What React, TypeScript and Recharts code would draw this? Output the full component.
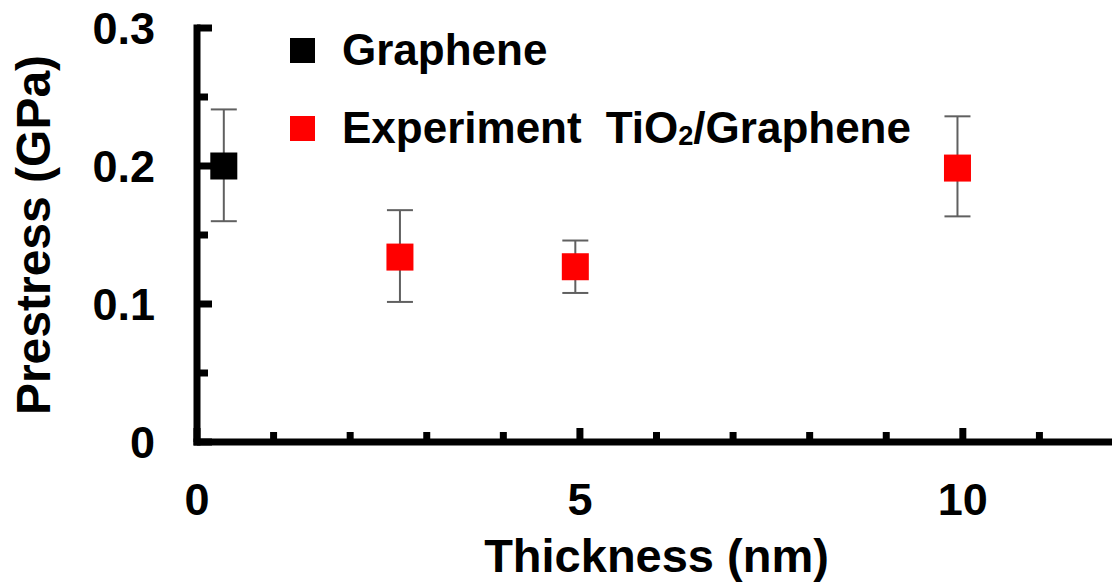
import { ScatterChart, Scatter, XAxis, YAxis, ErrorBar, Label } from 'recharts'

const FONT = "'Liberation Sans', Arial, sans-serif"

// Graphene
const grapheneX = [0.35]
const grapheneY = [0.2]
const grapheneErr = [[0.04, 0.041]]

// Experiment TiO2/Graphene
const tio2X = [2.65, 4.94, 9.93]
const tio2Y = [0.134, 0.127, 0.1985]
const tio2Err = [[0.0325, 0.034], [0.019, 0.019], [0.035, 0.0375]]

const xTicks = [0, 1, 2, 3, 4, 5, 6, 7, 8, 9, 10, 11, 12]
const xMajor = [0, 5, 10]
const yTicks = [0, 0.05, 0.1, 0.15, 0.2, 0.25, 0.3]
const yMajor = [0, 0.1, 0.2, 0.3]

const grapheneData = grapheneX.map((x, i) => ({ x, y: grapheneY[i], err: grapheneErr[i] }))
const tio2Data = tio2X.map((x, i) => ({ x, y: tio2Y[i], err: tio2Err[i] }))

const squareShape = (color: string) => (props: any) => (
    <rect x={props.cx - 13.5} y={props.cy - 13.5} width={27} height={27} fill={color} />
)

const YTick = (props: any) => {
    const { x, y, payload } = props
    const major = yMajor.some((m) => Math.abs(m - payload.value) < 1e-9)
    return (
        <g>
            <line x1={x} x2={x + (major ? 15 : 11)} y1={y} y2={y} stroke="#000" strokeWidth={7} />
            {major && (
                <text x={x - 42} y={y + 16} textAnchor="end" fontSize={45} fontWeight="bold" fontFamily={FONT} fill="#000">
                    {payload.value === 0 ? '0' : payload.value.toFixed(1)}
                </text>
            )}
        </g>
    )
}

const XTick = (props: any) => {
    const { x, y, payload } = props
    const major = xMajor.includes(payload.value)
    return (
        <g>
            <line x1={x} x2={x} y1={y} y2={y - (major ? 14 : 10)} stroke="#000" strokeWidth={7} />
            {major && (
                <text x={x} y={y + 73} textAnchor="middle" fontSize={45} fontWeight="bold" fontFamily={FONT} fill="#000">
                    {payload.value}
                </text>
            )}
        </g>
    )
}

const LegendBox = () => {
    const row = { display: 'flex', alignItems: 'center', height: 78 } as const
    const text = { fontSize: 44, fontWeight: 'bold', fontFamily: FONT, lineHeight: 1, color: '#000', marginLeft: 27, whiteSpace: 'nowrap' } as const
    return (
        <div style={{ position: 'absolute', left: 290, top: 11 }}>
            <div style={row}>
                <div style={{ width: 25, height: 25, background: '#000' }} />
                <span style={text}>Graphene</span>
            </div>
            <div style={row}>
                <div style={{ width: 25, height: 25, background: '#ff0000' }} />
                <span style={text}>
                    Experiment<span style={{ marginLeft: 24 }}>TiO</span>
                    <span style={{ fontSize: '0.62em', verticalAlign: '-0.06em' }}>2</span>/Graphene
                </span>
            </div>
        </div>
    )
}

export default function App() {
    return (
        <div style={{ position: 'absolute', left: 0, top: 0, width: 1112, height: 588, overflow: 'hidden', background: '#fff' }}>
            <ScatterChart width={1116} height={588} margin={{ top: 28, right: 0, bottom: 0, left: 0 }}>
                <XAxis
                    type="number"
                    dataKey="x"
                    domain={[0, 12]}
                    ticks={xTicks}
                    interval={0}
                    height={146}
                    tickSize={0}
                    tickMargin={0}
                    tickLine={false}
                    tick={XTick}
                    axisLine={{ stroke: '#000', strokeWidth: 7, strokeLinecap: 'square' }}
                >
                    <Label
                        content={(p: any) => (
                            <text x={p.viewBox.x + p.viewBox.width / 2} y={p.viewBox.y + 130} textAnchor="middle" fontSize={47} fontWeight="bold" fontFamily={FONT} fill="#000">
                                Thickness (nm)
                            </text>
                        )}
                    />
                </XAxis>
                <YAxis
                    type="number"
                    dataKey="y"
                    domain={[0, 0.3]}
                    ticks={yTicks}
                    interval={0}
                    width={197}
                    tickSize={0}
                    tickMargin={0}
                    tickLine={false}
                    tick={YTick}
                    axisLine={{ stroke: '#000', strokeWidth: 7, strokeLinecap: 'square' }}
                >
                    <Label
                        content={(p: any) => {
                            const cy = p.viewBox.y + p.viewBox.height / 2
                            return (
                                <text x={50} y={cy} transform={`rotate(-90, 50, ${cy})`} textAnchor="middle" fontSize={48} fontWeight="bold" fontFamily={FONT} fill="#000">
                                    Prestress (GPa)
                                </text>
                            )
                        }}
                    />
                </YAxis>
                <Scatter name="Graphene" data={grapheneData} fill="#000" shape={squareShape('#000')} isAnimationActive={false}>
                    <ErrorBar dataKey="err" direction="y" width={13} stroke="#606060" strokeWidth={2} />
                </Scatter>
                <Scatter name="Experiment TiO2/Graphene" data={tio2Data} fill="#ff0000" shape={squareShape('#ff0000')} isAnimationActive={false}>
                    <ErrorBar dataKey="err" direction="y" width={13} stroke="#606060" strokeWidth={2} />
                </Scatter>
            </ScatterChart>
            <LegendBox />
        </div>
    )
}
